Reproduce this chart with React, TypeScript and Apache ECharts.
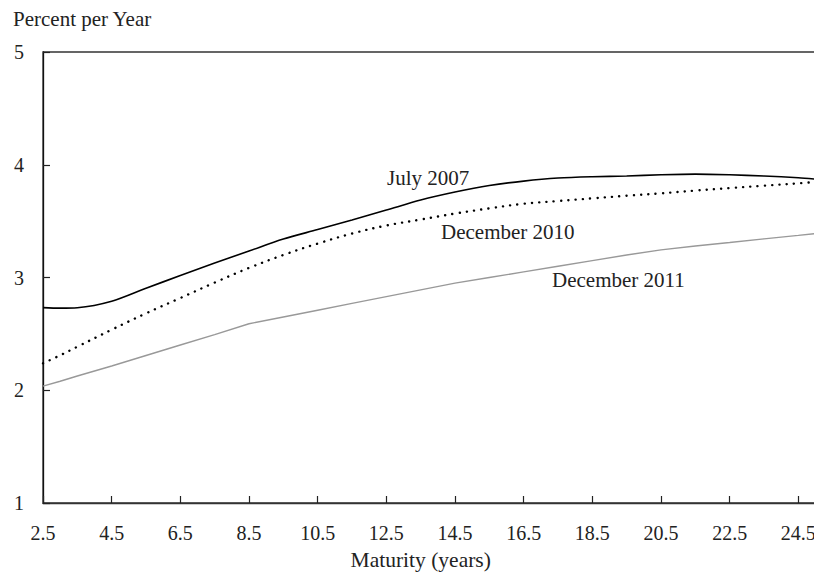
import React, { useEffect, useRef } from "react";
import * as echarts from "echarts";

const maturities = [2.5, 3, 3.5, 4.5, 5.5, 6.5, 7.5, 8.5, 9.5, 10.5, 11.5, 12.5, 13.5, 14.5, 15.5, 16.5, 17.5, 18.5, 19.5, 20.5, 21.5, 22.5, 23.5, 24.5, 25];
const july2007 = [2.733, 2.728, 2.732, 2.79, 2.905, 3.017, 3.128, 3.235, 3.341, 3.425, 3.51, 3.598, 3.687, 3.758, 3.816, 3.855, 3.882, 3.894, 3.9, 3.911, 3.917, 3.911, 3.9, 3.885, 3.873];
const dec2010 = [2.239, 2.31, 2.386, 2.537, 2.682, 2.818, 2.955, 3.085, 3.2, 3.301, 3.39, 3.461, 3.514, 3.567, 3.613, 3.654, 3.678, 3.702, 3.725, 3.746, 3.771, 3.793, 3.814, 3.835, 3.847];
const dec2011 = [2.037, 2.08, 2.126, 2.215, 2.308, 2.401, 2.494, 2.59, 2.65, 2.71, 2.77, 2.83, 2.89, 2.95, 3.0, 3.05, 3.1, 3.15, 3.2, 3.245, 3.28, 3.31, 3.343, 3.374, 3.39];
const xTicks = [2.5, 4.5, 6.5, 8.5, 10.5, 12.5, 14.5, 16.5, 18.5, 20.5, 22.5, 24.5];
const seriesNames = ["July 2007", "December 2010", "December 2011"];

const FONT = "'Liberation Serif', 'Times New Roman', serif";

export default function App() {
  const ref = useRef<HTMLDivElement>(null);
  useEffect(() => {
    if (!ref.current) return;
    const chart = echarts.init(ref.current, undefined, { renderer: "svg" });
    const pair = (vals: number[]) => maturities.map((m, i) => [m, vals[i]]);
    chart.setOption({
      animation: false,
      backgroundColor: "#fff",
      grid: {
        left: 43,
        top: 52,
        width: 772.5,
        height: 451,
        show: true,
        borderColor: "#333",
        borderWidth: 1.3,
        backgroundColor: "transparent",
        outerBoundsMode: "none",
      },
      xAxis: {
        type: "value",
        min: 2.5,
        max: 25,
        position: "bottom",
        axisLine: { show: true, onZero: false, lineStyle: { color: "#333", width: 1.3 } },
        axisTick: { show: true, inside: true, length: 7, customValues: xTicks, lineStyle: { color: "#222", width: 1.2 } },
        axisLabel: { customValues: xTicks, margin: 20, fontFamily: FONT, fontSize: 20, color: "#222", formatter: (v: number) => v.toFixed(1) },
        splitLine: { show: false },
      },
      yAxis: {
        type: "value",
        min: 1,
        max: 5,
        interval: 1,
        axisLine: { show: true, onZero: false, lineStyle: { color: "#111", width: 1.3 } },
        axisTick: { show: true, inside: true, length: 7, lineStyle: { color: "#222", width: 1.2 } },
        axisLabel: { margin: 19, fontFamily: FONT, fontSize: 20, color: "#222" },
        splitLine: { show: false },
      },
      graphic: [
        { type: "text", left: 13, top: 8, style: { text: "Percent per Year", font: `21px ${FONT}`, fill: "#222" } },
        { type: "text", x: 420.7, y: 560, style: { text: "Maturity (years)", font: `21.5px ${FONT}`, fill: "#222", textAlign: "center", textVerticalAlign: "middle" } },
        { type: "text", x: 387, y: 178, style: { text: seriesNames[0], font: `21px ${FONT}`, fill: "#222", textVerticalAlign: "middle" } },
        { type: "text", x: 441, y: 232, style: { text: seriesNames[1], font: `21px ${FONT}`, fill: "#222", textVerticalAlign: "middle" } },
        { type: "text", x: 552, y: 280, style: { text: seriesNames[2], font: `21px ${FONT}`, fill: "#222", textVerticalAlign: "middle" } },
      ],
      series: [
        {
          name: seriesNames[2],
          type: "line",
          data: pair(dec2011),
          showSymbol: false,
          smooth: false,
          lineStyle: { color: "#999", width: 1.4 },
        },
        {
          name: seriesNames[1],
          type: "line",
          data: pair(dec2010),
          showSymbol: false,
          smooth: 0.4,
          lineStyle: { color: "#000", width: 2.4, type: [0.1, 7.2], cap: "round" },
        },
        {
          name: seriesNames[0],
          type: "line",
          data: pair(july2007),
          showSymbol: false,
          smooth: 0.3,
          lineStyle: { color: "#000", width: 1.6 },
        },
      ],
    });
    return () => chart.dispose();
  }, []);
  return <div ref={ref} style={{ width: 814, height: 580, position: "absolute", left: 0, top: 0 }} />;
}
